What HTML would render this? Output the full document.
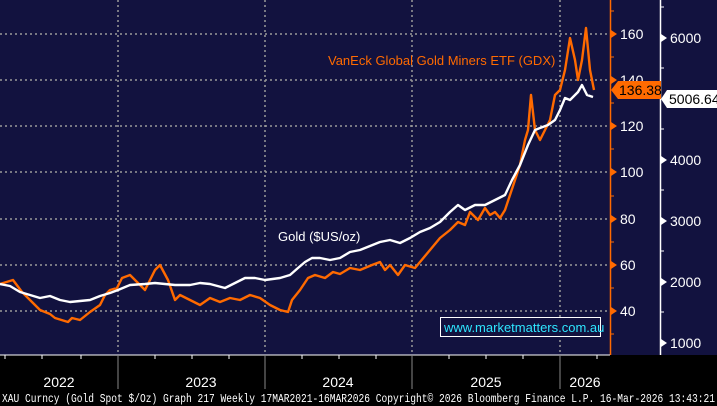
<!DOCTYPE html><html><head><style>body{margin:0;background:#000}svg{display:block;font-family:"Liberation Sans",sans-serif}</style></head><body>
<svg width="717" height="406" viewBox="0 0 717 406">
<rect width="717" height="406" fill="#000"/>
<rect x="0" y="0" width="717" height="355" fill="#12123f"/>
<g stroke="#9a9a9a" stroke-width="1.5" stroke-dasharray="2,3">
<line x1="0" x2="610" y1="34" y2="34"/><line x1="0" x2="610" y1="80" y2="80"/><line x1="0" x2="610" y1="126" y2="126"/><line x1="0" x2="610" y1="172" y2="172"/><line x1="0" x2="610" y1="219" y2="219"/><line x1="0" x2="610" y1="265" y2="265"/><line x1="0" x2="610" y1="311" y2="311"/>
<line x1="118" x2="118" y1="0" y2="354"/><line x1="265" x2="265" y1="0" y2="354"/><line x1="412" x2="412" y1="0" y2="354"/><line x1="560" x2="560" y1="0" y2="354"/>
</g>
<line x1="610.5" y1="0" x2="610.5" y2="355" stroke="#ff6a00" stroke-width="1.5"/>
<line x1="660.5" y1="0" x2="660.5" y2="355" stroke="#fff" stroke-width="1.5"/>
<line x1="0" y1="355" x2="610" y2="355" stroke="#fff"/>
<g fill="#ff6a00"><path d="M611 30l6 4-6 4z"/><path d="M611 76l6 4-6 4z"/><path d="M611 122l6 4-6 4z"/><path d="M611 168l6 4-6 4z"/><path d="M611 215l6 4-6 4z"/><path d="M611 261l6 4-6 4z"/><path d="M611 307l6 4-6 4z"/></g>
<g stroke="#ff6a00"><line x1="610" x2="614" y1="11" y2="11"/><line x1="610" x2="614" y1="57" y2="57"/><line x1="610" x2="614" y1="103" y2="103"/><line x1="610" x2="614" y1="149" y2="149"/><line x1="610" x2="614" y1="196" y2="196"/><line x1="610" x2="614" y1="242" y2="242"/><line x1="610" x2="614" y1="288" y2="288"/><line x1="610" x2="614" y1="334" y2="334"/></g>
<g fill="#fff"><path d="M661 34l6 4-6 4z"/><path d="M661 156l6 4-6 4z"/><path d="M661 217l6 4-6 4z"/><path d="M661 278l6 4-6 4z"/><path d="M661 339l6 4-6 4z"/></g>
<g stroke="#fff"><line x1="660" x2="664" y1="7" y2="7"/><line x1="660" x2="664" y1="68" y2="68"/><line x1="660" x2="664" y1="129" y2="129"/><line x1="660" x2="664" y1="190" y2="190"/><line x1="660" x2="664" y1="251" y2="251"/><line x1="660" x2="664" y1="312" y2="312"/></g>
<g fill="#fff" font-size="14"><text x="620" y="39">160</text><text x="620" y="85">140</text><text x="620" y="131">120</text><text x="620" y="177">100</text><text x="620" y="224">80</text><text x="620" y="270">60</text><text x="620" y="316">40</text>
<text x="670" y="43">6000</text><text x="670" y="165">4000</text><text x="670" y="226">3000</text><text x="670" y="287">2000</text><text x="670" y="348">1000</text></g>
<path d="M611 90l7-9h43v18h-43z" fill="#ff6a00"/><text x="619" y="95" font-size="14" fill="#000">136.38</text>
<path d="M661 99l6-9h50v18h-50z" fill="#fff"/><text x="669" y="104" font-size="14" fill="#000">5006.64</text>
<polyline fill="none" stroke="#ff6a00" stroke-width="2.4" stroke-linejoin="round" points="0,284 13,280 22,292 30,300 40,310 50,314 55,318 68,322 72,318 80,320 90,312 100,305 105,295 110,290 117,288 122,278 130,275 140,285 145,290 155,270 160,265 168,280 175,300 180,295 190,300 200,305 210,298 220,302 230,298 240,300 250,295 260,298 270,305 280,310 288,312 292,300 300,290 308,278 315,275 325,278 333,272 340,274 350,268 360,270 372,265 380,262 385,270 390,265 398,275 405,265 415,268 420,262 430,250 440,238 450,230 458,222 465,225 470,212 478,220 485,208 490,215 495,212 500,218 505,210 510,195 515,180 520,165 525,140 528,130 531,95 535,130 540,140 545,130 550,120 555,95 560,90 565,70 570,38 575,60 578,80 582,60 586,28 590,70 594,90"/>
<polyline fill="none" stroke="#fff" stroke-width="2.4" stroke-linejoin="round" points="0,284 10,286 20,292 30,295 40,298 50,296 60,300 70,302 80,301 90,300 100,296 110,293 118,290 130,285 145,284 155,283 165,284 175,285 190,285 200,283 210,284 225,288 235,283 245,278 255,278 265,280 280,278 290,275 298,268 305,262 312,258 320,258 330,260 340,258 350,252 360,250 370,246 380,242 390,240 400,243 410,238 420,232 430,228 440,222 450,212 458,205 465,210 475,205 485,205 495,200 505,195 512,180 520,165 528,145 535,130 540,128 548,125 555,120 560,110 565,98 570,100 578,92 582,85 587,95 593,97"/>
<text x="328" y="65" font-size="13" fill="#ff6a00">VanEck Global Gold Miners ETF (GDX)</text>
<text x="278" y="241" font-size="13" fill="#fff">Gold ($US/oz)</text>
<rect x="440.5" y="317.5" width="160" height="19" fill="#12123f" stroke="#fff"/>
<text x="444" y="332" font-size="13" fill="#2ee6ff">www.marketmatters.com.au</text>
<g stroke="#fff"><line x1="5" x2="5" y1="355" y2="359"/><line x1="42" x2="42" y1="355" y2="359"/><line x1="81" x2="81" y1="355" y2="359"/><line x1="155" x2="155" y1="355" y2="359"/><line x1="192" x2="192" y1="355" y2="359"/><line x1="229" x2="229" y1="355" y2="359"/><line x1="302" x2="302" y1="355" y2="359"/><line x1="339" x2="339" y1="355" y2="359"/><line x1="376" x2="376" y1="355" y2="359"/><line x1="449" x2="449" y1="355" y2="359"/><line x1="486" x2="486" y1="355" y2="359"/><line x1="523" x2="523" y1="355" y2="359"/><line x1="597" x2="597" y1="355" y2="359"/></g>
<g stroke="#888"><line x1="118" x2="118" y1="355" y2="389"/><line x1="265" x2="265" y1="355" y2="389"/><line x1="412" x2="412" y1="355" y2="389"/><line x1="560" x2="560" y1="355" y2="389"/></g>
<g fill="#fff" font-size="14" text-anchor="middle"><text x="59" y="387">2022</text><text x="201" y="387">2023</text><text x="338" y="387">2024</text><text x="486" y="387">2025</text><text x="585" y="387">2026</text></g>
<text x="2" y="402" font-size="11.5" fill="#fff" font-family="Liberation Mono,monospace" textLength="713" lengthAdjust="spacingAndGlyphs">XAU Curncy (Gold Spot  $/Oz) Graph 217 Weekly 17MAR2021-16MAR2026 Copyright© 2026 Bloomberg Finance L.P. 16-Mar-2026 13:43:21</text>
</svg></body></html>
